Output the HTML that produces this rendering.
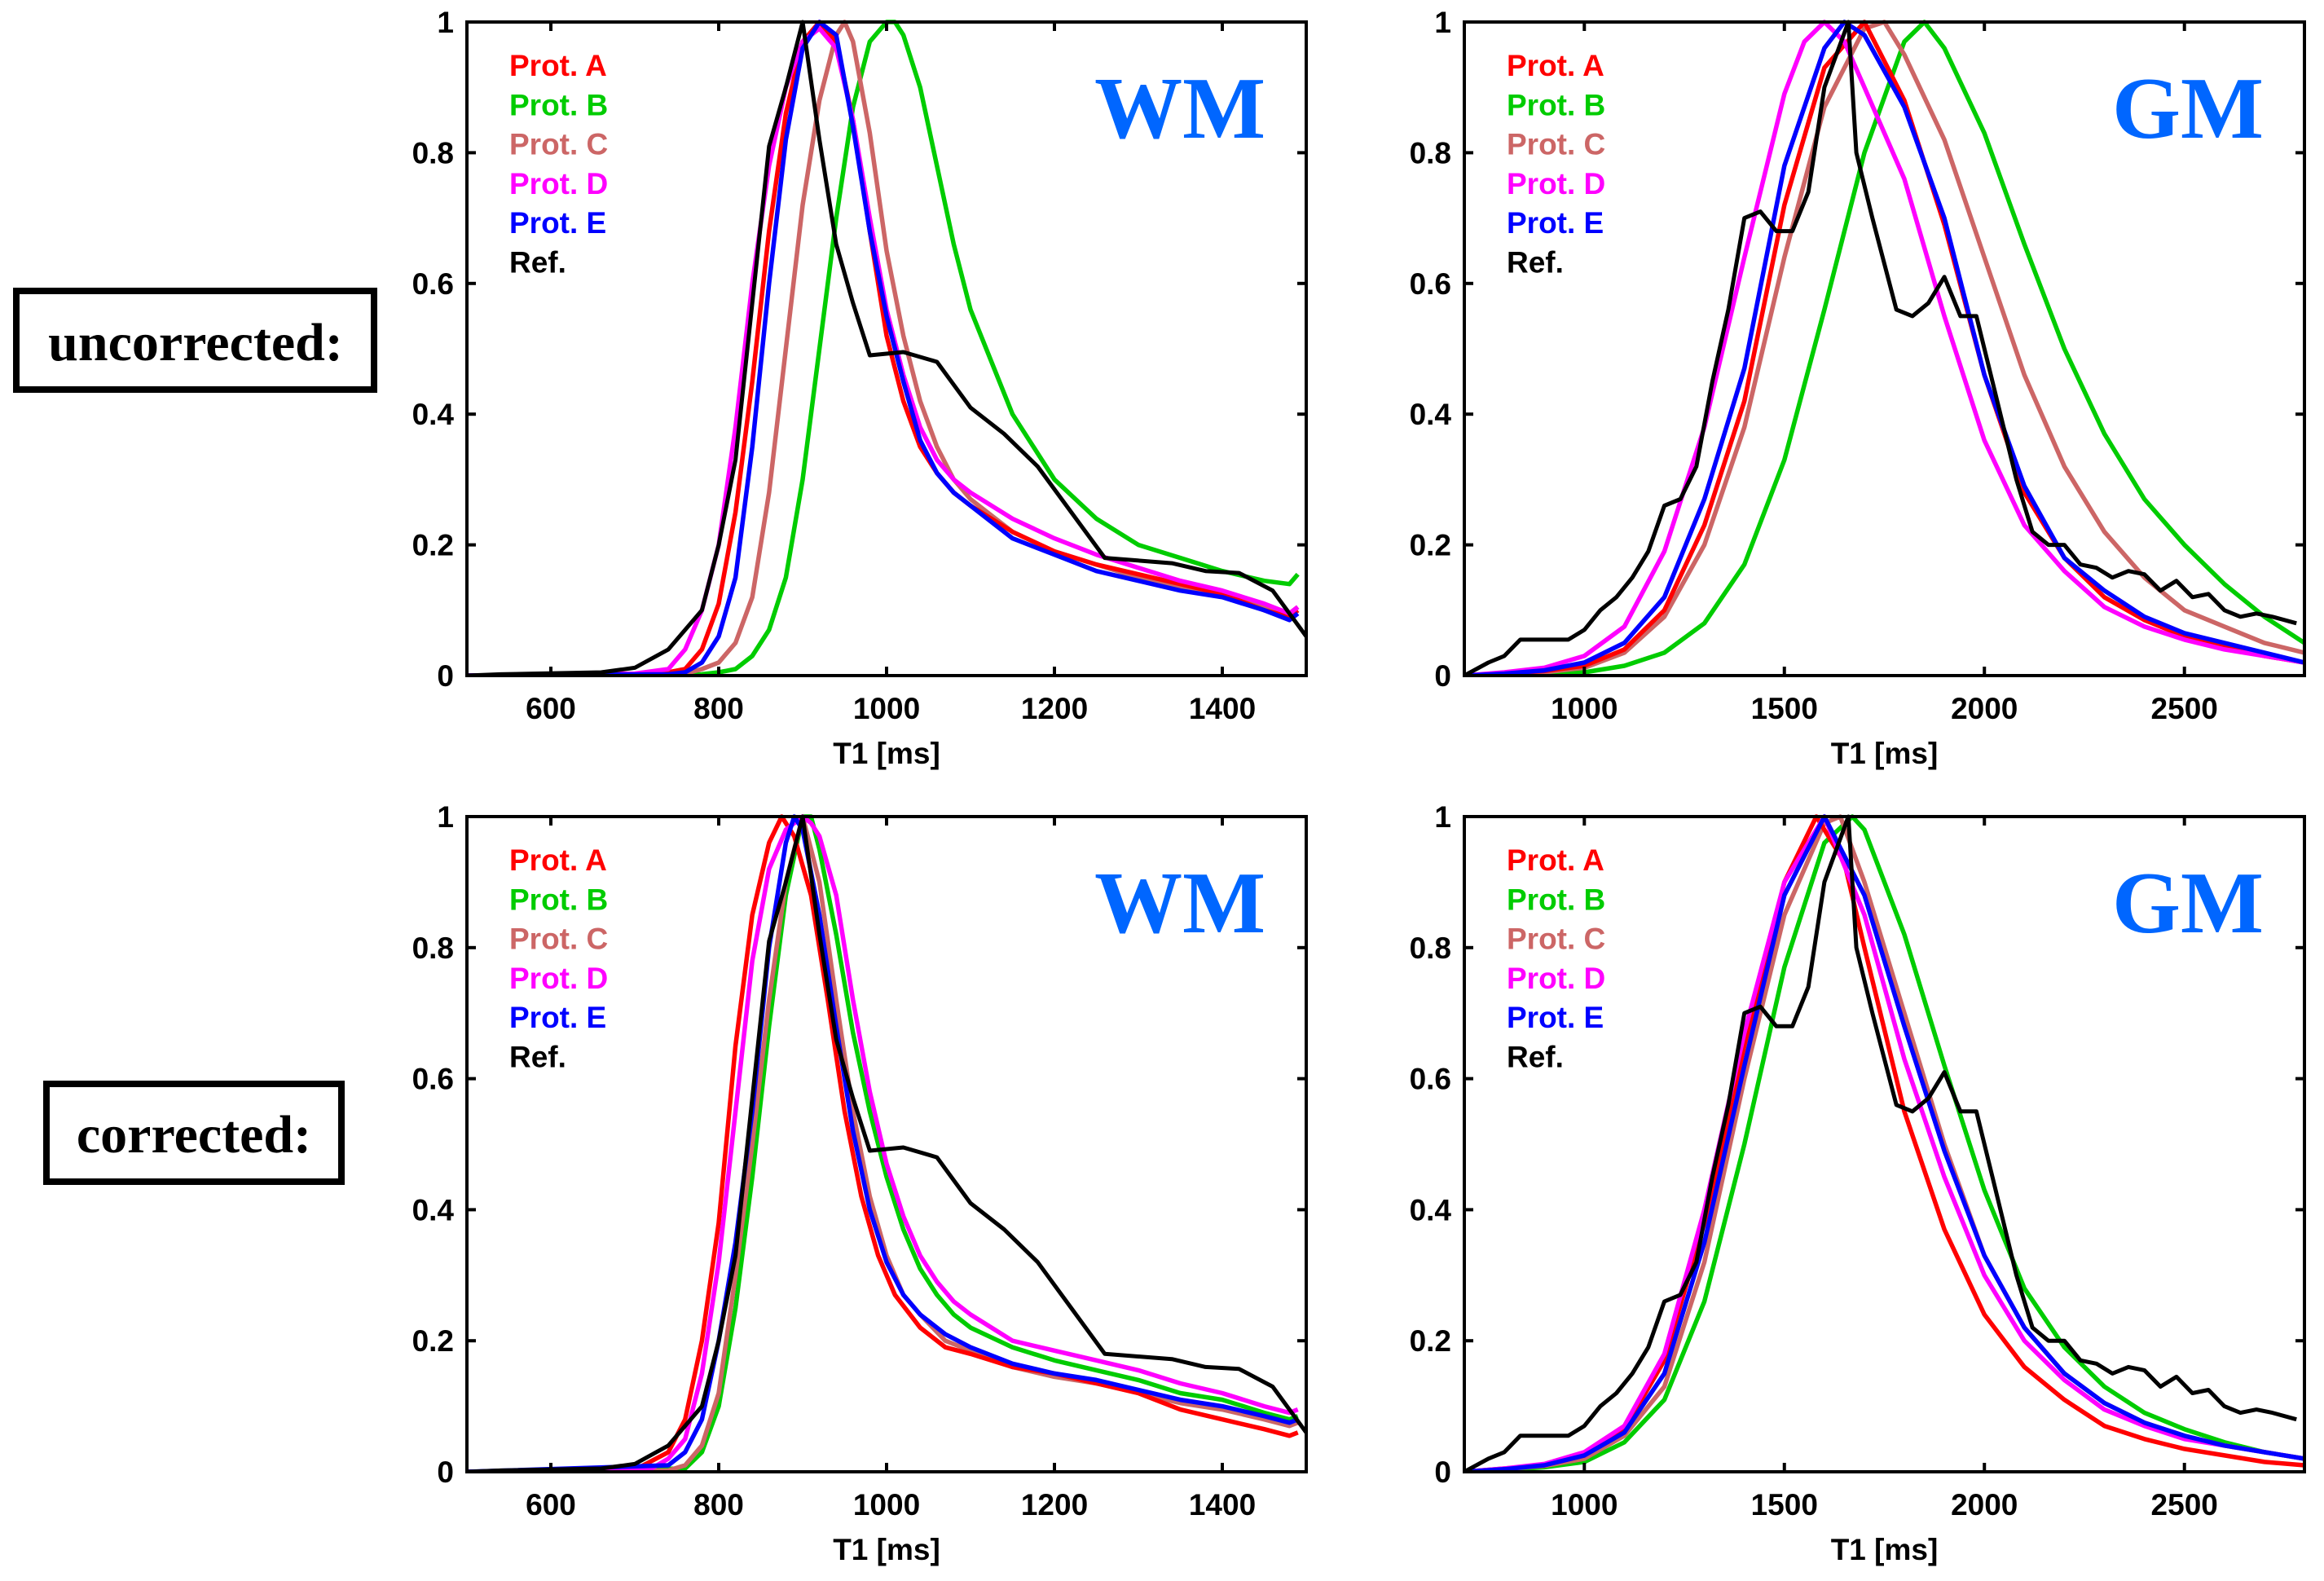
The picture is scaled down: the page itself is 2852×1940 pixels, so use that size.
<!DOCTYPE html>
<html><head><meta charset="utf-8"><style>
html,body{margin:0;padding:0;background:#fff;}
svg{display:block;}
text{font-family:"Liberation Sans",Arial,sans-serif;}
text.serif{font-family:"Liberation Serif","Times New Roman",serif;}
</style></head><body>
<svg id="fig" width="2852" height="1940" viewBox="0 0 2852 1940" xmlns="http://www.w3.org/2000/svg">
<rect x="0" y="0" width="2852" height="1940" fill="#fff"/>
<g>
<rect x="20" y="357" width="439" height="121" fill="none" stroke="#000" stroke-width="8"/>
<text class="serif" x="240" y="442" text-anchor="middle" font-weight="bold" font-size="66">uncorrected:</text>
</g>
<g>
<rect x="57" y="1330" width="362" height="120" fill="none" stroke="#000" stroke-width="8"/>
<text class="serif" x="238" y="1414" text-anchor="middle" font-weight="bold" font-size="66">corrected:</text>
</g>
</svg>
<script>
// ---- WM data (T1 ms, normalized) ----
const wmUncAx=[500,700,740,760,780,800,820,840,860,880,900,920,940,960,980,1000,1020,1040,1060,1080,1100,1150,1200,1250,1300,1350,1400,1450,1480,1490];
const wmUncAy=[0,0.002,0.005,0.01,0.04,0.11,0.25,0.45,0.68,0.86,0.97,1.0,0.97,0.85,0.68,0.52,0.42,0.35,0.31,0.28,0.26,0.22,0.19,0.17,0.155,0.14,0.125,0.1,0.09,0.1];
const wmUncBx=[500,780,800,820,840,860,880,900,920,940,960,980,1000,1010,1020,1040,1060,1080,1100,1150,1200,1250,1300,1350,1400,1450,1480,1490];
const wmUncBy=[0,0.002,0.005,0.01,0.03,0.07,0.15,0.3,0.5,0.7,0.87,0.97,1.0,1.0,0.98,0.9,0.78,0.66,0.56,0.4,0.3,0.24,0.2,0.18,0.16,0.145,0.14,0.155];
const wmUncCx=[500,760,780,800,820,840,860,880,900,920,940,950,960,980,1000,1020,1040,1060,1080,1100,1150,1200,1250,1300,1350,1400,1450,1480,1490];
const wmUncCy=[0,0.003,0.01,0.02,0.05,0.12,0.28,0.5,0.72,0.88,0.98,1.0,0.97,0.83,0.65,0.52,0.42,0.35,0.3,0.27,0.22,0.19,0.17,0.15,0.135,0.125,0.105,0.095,0.105];
const wmUncDx=[500,700,740,760,780,800,820,840,860,880,900,920,940,960,980,1000,1020,1040,1060,1080,1100,1150,1200,1250,1300,1350,1400,1450,1480,1490];
const wmUncDy=[0,0.003,0.01,0.04,0.1,0.2,0.38,0.6,0.78,0.9,0.97,0.99,0.96,0.85,0.7,0.56,0.46,0.38,0.33,0.3,0.28,0.24,0.21,0.185,0.165,0.145,0.13,0.11,0.095,0.105];
const wmUncEx=[500,740,760,780,800,820,840,860,880,900,920,940,960,980,1000,1020,1040,1060,1080,1100,1150,1200,1250,1300,1350,1400,1450,1480,1490];
const wmUncEy=[0,0.002,0.005,0.02,0.06,0.15,0.35,0.6,0.82,0.96,1.0,0.98,0.84,0.68,0.55,0.45,0.36,0.31,0.28,0.26,0.21,0.185,0.16,0.145,0.13,0.12,0.1,0.085,0.095];
const wmRefx=[500,540,660,700,740,780,800,820,840,860,880,900,920,940,960,980,1020,1060,1100,1140,1180,1220,1260,1340,1380,1420,1460,1500];
const wmRefy=[0,0.002,0.005,0.012,0.04,0.1,0.2,0.33,0.57,0.81,0.9,1.0,0.82,0.66,0.57,0.49,0.495,0.48,0.41,0.37,0.32,0.25,0.18,0.172,0.16,0.157,0.13,0.06];

const wmCorAx=[500,700,740,760,780,800,820,840,860,875,890,910,930,950,970,990,1010,1040,1070,1100,1150,1200,1250,1300,1350,1400,1450,1480,1490];
const wmCorAy=[0,0.003,0.03,0.08,0.2,0.38,0.65,0.85,0.96,1.0,0.97,0.88,0.72,0.55,0.42,0.33,0.27,0.22,0.19,0.18,0.16,0.15,0.135,0.12,0.095,0.08,0.065,0.055,0.06];
const wmCorBx=[500,760,780,800,820,840,860,880,900,910,920,940,960,980,1000,1020,1040,1060,1080,1100,1150,1200,1250,1300,1350,1400,1450,1480,1490];
const wmCorBy=[0,0.005,0.03,0.1,0.25,0.45,0.68,0.88,1.0,1.0,0.95,0.82,0.67,0.55,0.45,0.37,0.31,0.27,0.24,0.22,0.19,0.17,0.155,0.14,0.12,0.11,0.09,0.08,0.085];
const wmCorCx=[500,740,760,780,800,820,840,860,880,900,920,940,960,980,1000,1020,1040,1070,1100,1150,1200,1250,1300,1350,1400,1450,1480,1490];
const wmCorCy=[0,0.002,0.01,0.04,0.12,0.3,0.5,0.72,0.9,1.0,0.9,0.72,0.55,0.42,0.33,0.27,0.24,0.2,0.185,0.16,0.145,0.135,0.12,0.105,0.095,0.08,0.07,0.075];
const wmCorDx=[500,720,740,760,780,800,820,840,860,880,900,910,920,940,960,980,1000,1020,1040,1060,1080,1100,1150,1200,1250,1300,1350,1400,1450,1480,1490];
const wmCorDy=[0,0.005,0.02,0.05,0.15,0.32,0.55,0.78,0.92,0.98,1.0,0.99,0.97,0.88,0.72,0.58,0.47,0.39,0.33,0.29,0.26,0.24,0.2,0.185,0.17,0.155,0.135,0.12,0.1,0.09,0.095];
const wmCorEx=[500,740,760,780,800,820,840,860,880,890,900,920,940,960,980,1000,1020,1040,1070,1100,1150,1200,1250,1300,1350,1400,1450,1480,1490];
const wmCorEy=[0,0.01,0.03,0.08,0.2,0.35,0.55,0.8,0.96,1.0,0.98,0.85,0.68,0.52,0.4,0.32,0.27,0.24,0.21,0.19,0.165,0.15,0.14,0.125,0.11,0.1,0.085,0.075,0.08];

// ---- GM data ----
const gmUncAx=[700,800,900,1000,1100,1200,1300,1400,1500,1600,1700,1800,1900,2000,2100,2200,2300,2400,2500,2600,2700,2800];
const gmUncAy=[0,0.003,0.007,0.015,0.04,0.1,0.23,0.42,0.72,0.93,1.0,0.88,0.69,0.46,0.28,0.18,0.12,0.085,0.06,0.045,0.03,0.02];
const gmUncBx=[700,800,900,1000,1100,1200,1300,1400,1500,1600,1700,1800,1850,1900,2000,2100,2200,2300,2400,2500,2600,2700,2800];
const gmUncBy=[0,0.001,0.003,0.005,0.015,0.035,0.08,0.17,0.33,0.56,0.8,0.97,1.0,0.96,0.83,0.66,0.5,0.37,0.27,0.2,0.14,0.09,0.05];
const gmUncCx=[700,800,900,1000,1100,1200,1300,1400,1500,1600,1700,1750,1800,1900,2000,2100,2200,2300,2400,2500,2600,2700,2800];
const gmUncCy=[0,0.002,0.005,0.012,0.035,0.09,0.2,0.38,0.64,0.87,0.99,1.0,0.95,0.82,0.64,0.46,0.32,0.22,0.15,0.1,0.075,0.05,0.035];
const gmUncDx=[700,800,900,1000,1100,1200,1300,1400,1500,1550,1600,1650,1700,1800,1900,2000,2100,2200,2300,2400,2500,2600,2700,2800];
const gmUncDy=[0,0.005,0.012,0.03,0.075,0.19,0.38,0.64,0.89,0.97,1.0,0.97,0.9,0.76,0.55,0.36,0.23,0.16,0.105,0.075,0.055,0.04,0.03,0.02];
const gmUncEx=[700,800,900,1000,1100,1200,1300,1400,1500,1600,1650,1700,1800,1900,2000,2100,2200,2300,2400,2500,2600,2700,2800];
const gmUncEy=[0,0.003,0.008,0.02,0.05,0.12,0.27,0.47,0.78,0.96,1.0,0.98,0.87,0.7,0.46,0.29,0.18,0.13,0.09,0.065,0.05,0.035,0.02];
const gmRefx=[700,760,800,840,900,960,1000,1040,1080,1120,1160,1200,1240,1280,1320,1360,1400,1440,1480,1520,1560,1600,1660,1680,1720,1780,1820,1860,1900,1940,1980,2020,2080,2120,2160,2200,2240,2280,2320,2360,2400,2440,2480,2520,2560,2600,2640,2680,2720,2780];
const gmRefy=[0,0.02,0.03,0.055,0.055,0.055,0.07,0.1,0.12,0.15,0.19,0.26,0.27,0.32,0.45,0.56,0.7,0.71,0.68,0.68,0.74,0.9,1.0,0.8,0.7,0.56,0.55,0.57,0.61,0.55,0.55,0.45,0.3,0.22,0.2,0.2,0.17,0.165,0.15,0.16,0.155,0.13,0.145,0.12,0.125,0.1,0.09,0.095,0.09,0.08];

const gmCorAx=[700,800,900,1000,1100,1200,1300,1400,1500,1580,1650,1700,1800,1900,2000,2100,2200,2300,2400,2500,2600,2700,2800];
const gmCorAy=[0,0.005,0.01,0.025,0.065,0.17,0.38,0.65,0.9,1.0,0.93,0.8,0.55,0.37,0.24,0.16,0.11,0.07,0.05,0.035,0.025,0.015,0.01];
const gmCorBx=[700,800,900,1000,1100,1200,1300,1400,1500,1600,1670,1700,1800,1900,2000,2100,2200,2300,2400,2500,2600,2700,2800];
const gmCorBy=[0,0.003,0.007,0.015,0.045,0.11,0.26,0.5,0.77,0.96,1.0,0.98,0.82,0.62,0.43,0.28,0.19,0.13,0.09,0.065,0.045,0.03,0.02];
const gmCorCx=[700,800,900,1000,1100,1200,1300,1400,1500,1600,1640,1700,1800,1900,2000,2100,2200,2300,2400,2500,2600,2700,2800];
const gmCorCy=[0,0.004,0.009,0.02,0.055,0.13,0.32,0.6,0.85,0.99,1.0,0.9,0.7,0.5,0.33,0.22,0.15,0.105,0.075,0.055,0.04,0.03,0.02];
const gmCorDx=[700,800,900,1000,1100,1200,1300,1400,1500,1600,1700,1800,1900,2000,2100,2200,2300,2400,2500,2600,2700,2800];
const gmCorDy=[0,0.005,0.012,0.03,0.07,0.18,0.4,0.67,0.9,1.0,0.85,0.63,0.45,0.3,0.2,0.14,0.095,0.07,0.05,0.04,0.03,0.02];
const gmCorEx=[700,800,900,1000,1100,1200,1300,1400,1500,1600,1700,1800,1900,2000,2100,2200,2300,2400,2500,2600,2700,2800];
const gmCorEy=[0,0.004,0.01,0.025,0.06,0.15,0.35,0.62,0.88,1.0,0.88,0.68,0.49,0.33,0.22,0.15,0.105,0.075,0.055,0.04,0.03,0.02];

const wmTicks=[600,800,1000,1200,1400];
const gmTicks=[1000,1500,2000,2500];
const yTicks=[0,0.2,0.4,0.6,0.8,1];
const yTickLabels=['0','0.2','0.4','0.6','0.8','1'];
const legendLabels=['Prot. A','Prot. B','Prot. C','Prot. D','Prot. E','Ref.'];
const colors=['#ff0000','#00cc00','#cc6666','#ff00ff','#0000ff','#000000'];

const NS='http://www.w3.org/2000/svg';
const svg=document.getElementById('fig');
function mk(tag,attrs,parent){const e=document.createElementNS(NS,tag);for(const k in attrs)e.setAttribute(k,attrs[k]);(parent||svg).appendChild(e);return e;}

function panel(name,L,T,R,B,xmin,xmax,xticks,series,title){
  const g=mk('g',{});
  
  
  const sx=v=>L+(v-xmin)/(xmax-xmin)*(R-L);
  const sy=v=>B-v*(B-T);
  const clip=mk('clipPath',{id:'c'+name},g);
  mk('rect',{x:L,y:T-6,width:R-L,height:B-T+8},clip);
  const lines=mk('g',{'clip-path':'url(#c'+name+')'},g);
  const order=[1,2,0,3,4,5];
  order.forEach(i=>{
    const s=series[i];
    let d='';
    s[0].forEach((x,j)=>{d+=(j?'L':'M')+sx(x).toFixed(1)+','+sy(s[1][j]).toFixed(1);});
    const p=mk('path',{d:d,fill:'none',stroke:colors[i],'stroke-width':i==5?5:5.5,'stroke-linejoin':'round'},lines);
    
    
  });
  const fr=mk('rect',{x:L,y:T,width:R-L,height:B-T,fill:'none',stroke:'#000','stroke-width':4},g);
  
  
  xticks.forEach(v=>{
    const x=sx(v);
    mk('line',{x1:x,y1:B,x2:x,y2:B-11,stroke:'#000','stroke-width':4},g);
    mk('line',{x1:x,y1:T,x2:x,y2:T+11,stroke:'#000','stroke-width':4},g);
    const t=mk('text',{x:x,y:B+53,'text-anchor':'middle','font-size':37,'font-weight':'bold'},g);
    t.textContent=v;
    
    
  });
  yTicks.forEach((v,i)=>{
    const y=sy(v);
    mk('line',{x1:L,y1:y,x2:L+11,y2:y,stroke:'#000','stroke-width':4},g);
    mk('line',{x1:R,y1:y,x2:R-11,y2:y,stroke:'#000','stroke-width':4},g);
    const t=mk('text',{x:L-16,y:y+13,'text-anchor':'end','font-size':37,'font-weight':'bold'},g);
    t.textContent=yTickLabels[i];
    
    
  });
  const xl=mk('text',{x:(L+R)/2,y:B+108,'text-anchor':'middle','font-size':37,'font-weight':'bold'},g);
  xl.textContent='T1 [ms]';
  
  
  legendLabels.forEach((lab,i)=>{
    const t=mk('text',{x:L+52,y:T+66+i*48.3,'font-size':37,'font-weight':'bold',fill:colors[i]},g);
    t.textContent=lab;
    
    
  });
  const tt=mk('text',{class:'serif',x:R-50,y:T+142,'text-anchor':'end','font-weight':'bold','font-size':108,fill:'#0066ff'},g);
  tt.textContent=title;
  
  
}

panel('wm-uncorrected-panel',573,27,1603,829,500,1500,wmTicks,
 [[wmUncAx,wmUncAy],[wmUncBx,wmUncBy],[wmUncCx,wmUncCy],[wmUncDx,wmUncDy],[wmUncEx,wmUncEy],[wmRefx,wmRefy]],'WM');
panel('gm-uncorrected-panel',1797,27,2828,829,700,2800,gmTicks,
 [[gmUncAx,gmUncAy],[gmUncBx,gmUncBy],[gmUncCx,gmUncCy],[gmUncDx,gmUncDy],[gmUncEx,gmUncEy],[gmRefx,gmRefy]],'GM');
panel('wm-corrected-panel',573,1002,1603,1806,500,1500,wmTicks,
 [[wmCorAx,wmCorAy],[wmCorBx,wmCorBy],[wmCorCx,wmCorCy],[wmCorDx,wmCorDy],[wmCorEx,wmCorEy],[wmRefx,wmRefy]],'WM');
panel('gm-corrected-panel',1797,1002,2828,1806,700,2800,gmTicks,
 [[gmCorAx,gmCorAy],[gmCorBx,gmCorBy],[gmCorCx,gmCorCy],[gmCorDx,gmCorDy],[gmCorEx,gmCorEy],[gmRefx,gmRefy]],'GM');
</script>
</body></html>
